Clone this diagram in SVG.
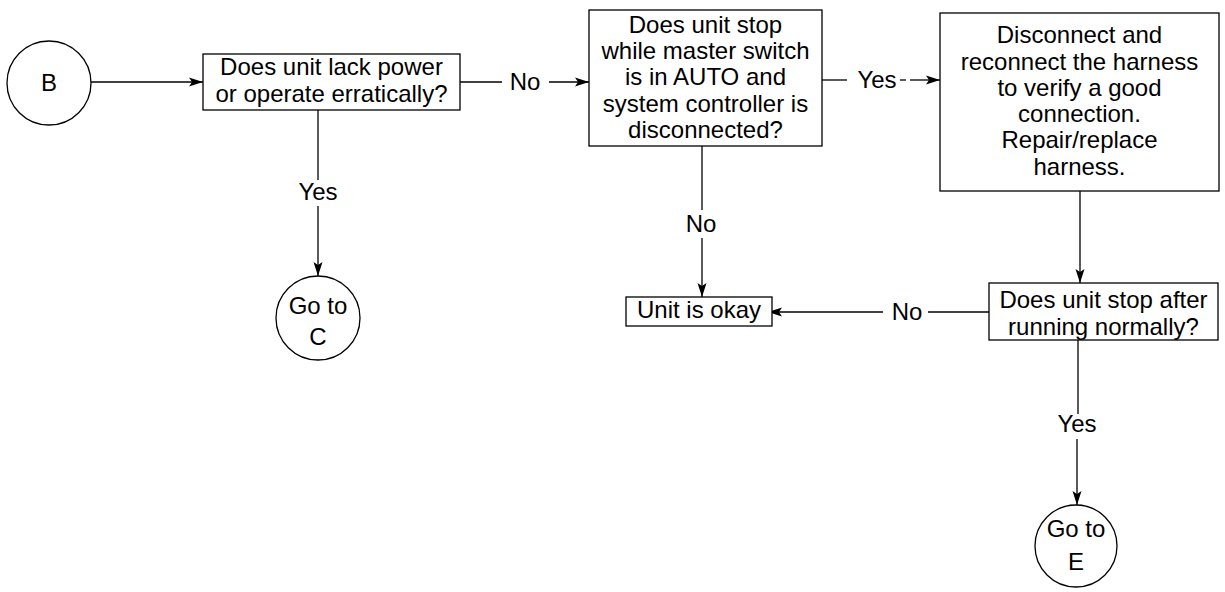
<svg xmlns="http://www.w3.org/2000/svg" width="1225" height="592" viewBox="0 0 1225 592">
<style>
.box{fill:#fff;stroke:#000;stroke-width:1.3}
.ln{fill:none;stroke:#000;stroke-width:1.3}
text{font-family:"Liberation Sans",Arial,Helvetica,sans-serif;font-size:24px;fill:#000;text-anchor:middle}
</style>
<defs>
<marker id="arr" viewBox="0 0 14 10" refX="14" refY="5" markerWidth="14" markerHeight="10" markerUnits="userSpaceOnUse" orient="auto">
<path d="M0,0.5 L14,5 L0,9.5 L3,5 Z" fill="#000"/>
</marker>
</defs>
<rect width="1225" height="592" fill="#fff"/>
<g id="connectors">
<line class="ln" x1="91" y1="82" x2="203" y2="82" marker-end="url(#arr)"/>
<line class="ln" x1="460" y1="82" x2="502" y2="82"/>
<text x="525" y="90">No</text>
<line class="ln" x1="549" y1="82" x2="589" y2="82" marker-end="url(#arr)"/>
<line class="ln" x1="822" y1="80" x2="847" y2="80"/>
<text x="877" y="88">Yes</text>
<line class="ln" x1="900" y1="80" x2="906" y2="80"/>
<line class="ln" x1="910" y1="80" x2="940" y2="80" marker-end="url(#arr)"/>
<line class="ln" x1="318" y1="110" x2="318" y2="180"/>
<text x="318" y="200">Yes</text>
<line class="ln" x1="318" y1="206" x2="318" y2="276" marker-end="url(#arr)"/>
<line class="ln" x1="702" y1="146" x2="702" y2="210"/>
<text x="701" y="232">No</text>
<line class="ln" x1="702" y1="238" x2="702" y2="297" marker-end="url(#arr)"/>
<line class="ln" x1="1080" y1="191" x2="1080" y2="283" marker-end="url(#arr)"/>
<line class="ln" x1="989" y1="312" x2="928" y2="312"/>
<text x="907" y="320">No</text>
<line class="ln" x1="883" y1="312" x2="768" y2="312" marker-end="url(#arr)"/>
<line class="ln" x1="1078" y1="340" x2="1078" y2="414"/>
<text x="1077" y="432">Yes</text>
<line class="ln" x1="1077" y1="439" x2="1077" y2="505" marker-end="url(#arr)"/>
</g>
<g id="node-b">
<circle class="box" cx="49" cy="83" r="42"/>
<text x="49" y="91">B</text>
</g>
<g id="node-q1">
<rect class="box" x="203" y="54" width="257" height="56"/>
<text x="331.5" y="75">Does unit lack power</text>
<text x="331.5" y="102">or operate erratically?</text>
</g>
<g id="node-q2">
<rect class="box" x="589" y="10" width="233" height="136"/>
<text x="705.5" y="33">Does unit stop</text>
<text x="705.5" y="59">while master switch</text>
<text x="705.5" y="85">is in AUTO and</text>
<text x="705.5" y="112">system controller is</text>
<text x="705.5" y="138">disconnected?</text>
</g>
<g id="node-harness">
<rect class="box" x="940" y="13" width="279" height="178"/>
<text x="1079.5" y="43">Disconnect and</text>
<text x="1079.5" y="70">reconnect the harness</text>
<text x="1079.5" y="96">to verify a good</text>
<text x="1079.5" y="122">connection.</text>
<text x="1079.5" y="148">Repair/replace</text>
<text x="1079.5" y="175">harness.</text>
</g>
<g id="node-q3">
<rect class="box" x="989" y="283" width="229" height="57"/>
<text x="1103.5" y="308">Does unit stop after</text>
<text x="1103.5" y="335">running normally?</text>
</g>
<g id="node-okay">
<rect class="box" x="626" y="297" width="146" height="29"/>
<text x="699" y="318">Unit is okay</text>
</g>
<g id="node-c">
<circle class="box" cx="318" cy="318" r="42"/>
<text x="318" y="314">Go to</text>
<text x="318" y="345">C</text>
</g>
<g id="node-e">
<circle class="box" cx="1076" cy="546" r="41"/>
<text x="1076" y="537">Go to</text>
<text x="1076" y="570">E</text>
</g>
</svg>
